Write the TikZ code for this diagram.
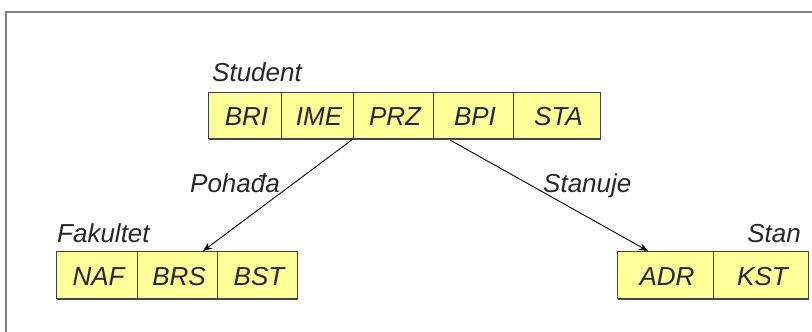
\documentclass[tikz,border=0pt]{standalone}
\usepackage{fontspec}
\setmainfont{Liberation Sans}
\usetikzlibrary{arrows.meta}
\definecolor{cellfill}{HTML}{FFFF99}
\definecolor{cellline}{HTML}{404040}
\definecolor{framegray}{HTML}{7F7F7F}
\tikzset{
  cell/.style={draw=cellline, fill=cellfill, line width=0.8pt},
  shadowline/.style={draw=black!70, line width=0.8pt},
  lbl/.style={font=\fontsize{26}{30}\selectfont\itshape, text=black!85, inner sep=0pt},
  link/.style={line width=0.9pt, -{Stealth[length=9pt,width=7pt]}},
}
\begin{document}
\begin{tikzpicture}[x=1pt,y=-1pt]
\useasboundingbox (0,0) rectangle (812,332);
% frame running off the right and bottom edges
\draw[framegray, line width=1.5pt] (6,340) -- (6,12) -- (820,12);

% a table row: cells between the given x borders
\newcommand\tablerow[4]{%
  \foreach \a/\b/\t [count=\i] in {#3} {
    \draw[shadowline] (\a+1,#2+1.5) -- (\b+1,#2+1.5);
    \filldraw[cell] (\a,#1) rectangle (\b,#2);
    \node[lbl] (#4\i) at ({(\a+\b)/2+2},{(#1+#2)/2+2}) {\t};
  }}

% Student
\tablerow{92}{138}{208/281/BRI,281/353/IME,353/433/PRZ,433/513/BPI,513/600/STA}{s}
\node[lbl, anchor=base west] (student) at (212,81) {Student};

% Fakultet
\tablerow{251}{298}{56/137/NAF,137/217/BRS,217/297/BST}{f}
\node[lbl, anchor=base west] (fakultet) at (57,242) {Fakultet};

% Stan
\tablerow{251}{298}{617/713/ADR,713/808/KST}{t}
\node[lbl, anchor=base east] (stan) at (801,242) {Stan};

% references
\coordinate (p1) at (353,139);
\coordinate (p2) at (203,251);
\coordinate (q1) at (450,140);
\coordinate (q2) at (648,251);
\draw[link] (p1) -- (p2);
\draw[link] (q1) -- (q2);
\node[lbl, anchor=base west] (pohadja) at (190,192) {Pohađa};
\node[lbl, anchor=base west] (stanuje) at (543,192) {Stanuje};
\end{tikzpicture}
\end{document}
